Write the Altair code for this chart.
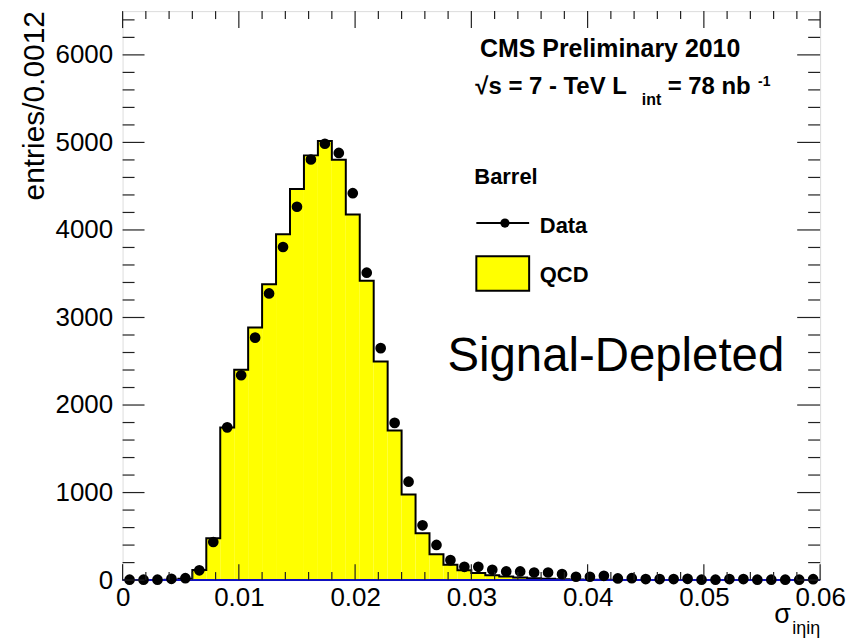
import altair as alt
import pandas as pd

FONT = "Liberation Sans"
BIN_W = 0.0012
N_BINS = 50

# QCD histogram contents (entries per 0.0012 bin)
qcd = [0, 0, 0, 3, 15, 115, 478, 1742, 2403, 2885,
       3380, 3950, 4468, 4852, 5015, 4803, 4176, 3421, 2498, 1708,
       979, 535, 296, 175, 112, 80, 55, 40, 30, 22,
       15, 10, 6, 4, 3, 2, 2, 1, 1, 1,
       1, 1, 1, 0, 0, 0, 0, 0, 0, 0]

# Data points (entries per bin)
data_vals = [5, 5, 5, 15, 22, 112, 435, 1745, 2340, 2770,
             3275, 3805, 4265, 4805, 4985, 4880, 4420, 3512, 2650, 1796,
             1124, 626, 402, 228, 152, 152, 118, 99, 99, 87,
             87, 68, 38, 38, 49, 19, 22, 12, 12, 12,
             15, 5, 5, 12, 12, 5, 5, 5, 5, 10]

x_major = [0, 0.01, 0.02, 0.03, 0.04, 0.05, 0.06]
x_minor = [round(0.002 * i, 4) for i in range(31) if i % 5 != 0]
y_major = [0, 1000, 2000, 3000, 4000, 5000, 6000]
y_minor = [v for v in range(200, 6500, 200) if v % 1000 != 0]

lo = [round(i * BIN_W, 5) for i in range(N_BINS)]
hi = [round(v + BIN_W, 5) for v in lo]
centers = [round(v + BIN_W / 2, 5) for v in lo]

hist_df = pd.DataFrame({"lo": lo, "hi": hi, "qcd": qcd})
step_df = pd.DataFrame({"x": lo + [0.06], "y": qcd + [qcd[-1]]})
pts_df = pd.DataFrame({"c": centers, "v": data_vals})
one = pd.DataFrame({"a": [0]})

W, H = 700, 571
xs = alt.Scale(domain=[0, 0.06], nice=False, zero=False)
ys = alt.Scale(domain=[0, 6500], nice=False)

xaxis = alt.Axis(values=x_major, labelExpr="datum.value == 0 ? '0' : format(datum.value, '.2f')",
                 ticks=False, tickSize=0, domain=False, grid=False, labelFontSize=26,
                 labelFont=FONT, labelColor="black", labelPadding=4, labelFlush=False,
                 labelOverlap=False, title=None)
yaxis = alt.Axis(values=y_major, format="d", ticks=False, tickSize=0, domain=False, grid=False,
                 labelFontSize=26, labelFont=FONT, labelColor="black", labelPadding=10,
                 labelOverlap=False, labelFlush=False, title=None)

X = lambda f: alt.X(f, type="quantitative", scale=xs, axis=xaxis)
Y = lambda f: alt.Y(f, type="quantitative", scale=ys, axis=yaxis)

fill = alt.Chart(hist_df).mark_rect(color="#ffff00").encode(
    x=X("lo"), x2="hi", y=Y("qcd"), y2=alt.datum(0))

outline = alt.Chart(step_df).mark_line(interpolate="step-after", color="black", strokeWidth=2).encode(
    x=X("x"), y=Y("y"))

baseline = alt.Chart(one).mark_rule(color="#1010c0", strokeWidth=2).encode(
    x=alt.datum(0), x2=alt.datum(0.06), y=alt.datum(0))

points = alt.Chart(pts_df).mark_circle(size=115, color="black", opacity=1).encode(
    x=X("c"), y=Y("v"))

# ROOT-style inward ticks
tick_layers = []
ymaj_df = pd.DataFrame({"v": y_major})
ymin_df = pd.DataFrame({"v": y_minor})
xmaj_df = pd.DataFrame({"v": x_major})
xmin_df = pd.DataFrame({"v": x_minor})
tc = "#222222"
tick_layers.append(alt.Chart(ymaj_df).mark_rule(color=tc, strokeWidth=1.2).encode(
    y=Y("v"), x=alt.value(0), x2=alt.value(22)))
tick_layers.append(alt.Chart(ymin_df).mark_rule(color=tc, strokeWidth=1.2).encode(
    y=Y("v"), x=alt.value(0), x2=alt.value(12)))
tick_layers.append(alt.Chart(ymaj_df).mark_rule(color=tc, strokeWidth=1.2).encode(
    y=Y("v"), x=alt.value(W - 23), x2=alt.value(W)))
tick_layers.append(alt.Chart(ymin_df).mark_rule(color=tc, strokeWidth=1.2).encode(
    y=Y("v"), x=alt.value(W - 12), x2=alt.value(W)))
tick_layers.append(alt.Chart(xmaj_df).mark_rule(color=tc, strokeWidth=1.2).encode(
    x=X("v"), y=alt.value(H), y2=alt.value(H - 16)))
tick_layers.append(alt.Chart(xmin_df).mark_rule(color=tc, strokeWidth=1.2).encode(
    x=X("v"), y=alt.value(H), y2=alt.value(H - 8)))
tick_layers.append(alt.Chart(xmaj_df).mark_rule(color=tc, strokeWidth=1.2).encode(
    x=X("v"), y=alt.value(0), y2=alt.value(17)))
tick_layers.append(alt.Chart(xmin_df).mark_rule(color=tc, strokeWidth=1.2).encode(
    x=X("v"), y=alt.value(0), y2=alt.value(8)))


def txt(s, x, y, size, weight="normal", **kw):
    return alt.Chart(one).mark_text(text=s, font=FONT, fontSize=size, fontWeight=weight,
                                    color="black", align=kw.pop("align", "left"),
                                    baseline=kw.pop("baseline", "alphabetic"), **kw).encode(
        x=alt.value(x), y=alt.value(y))


texts = [
    txt("CMS Preliminary 2010", 358.7, 46, 25, "bold"),
    txt("√s = 7 - TeV L", 354, 83, 24, "bold"),
    txt("int", 521, 94, 16, "bold"),
    txt("= 78 nb", 547, 83, 24, "bold"),
    txt("-1", 637.7, 75, 14, "bold"),
    txt("Barrel", 353, 173, 22, "bold"),
    txt("Data", 418.7, 223, 22, "bold"),
    txt("QCD", 418.7, 271.7, 22, "bold"),
    txt("Signal-Depleted", 326, 361, 47.5),
    txt("entries/0.0012", -79, 0, 30, angle=270, align="right"),
    txt("σ", 654, 614, 27),
    txt("iηiη", 672, 625, 18),
]

leg_line = alt.Chart(one).mark_rule(color="black", strokeWidth=2).encode(
    x=alt.value(355), x2=alt.value(408), y=alt.value(212.7))
leg_dot = alt.Chart(one).mark_circle(size=85, color="black", opacity=1).encode(
    x=alt.value(383.7), y=alt.value(212.7))
leg_box = alt.Chart(one).mark_rect(fill="#ffff00", stroke="black", strokeWidth=2).encode(
    x=alt.value(355), x2=alt.value(408), y=alt.value(246), y2=alt.value(280.7))

chart = alt.layer(
    fill, outline, baseline, points, *tick_layers, leg_line, leg_dot, leg_box, *texts
).properties(
    width=W, height=H,
    autosize=alt.AutoSizeParams(type="none"),
    padding={"left": 115, "top": 2, "right": 32, "bottom": 62},
).configure_view(stroke="black", strokeWidth=1.5).configure(background="white")

chart.save("out.html", embed_options={"renderer": "svg", "actions": False})
